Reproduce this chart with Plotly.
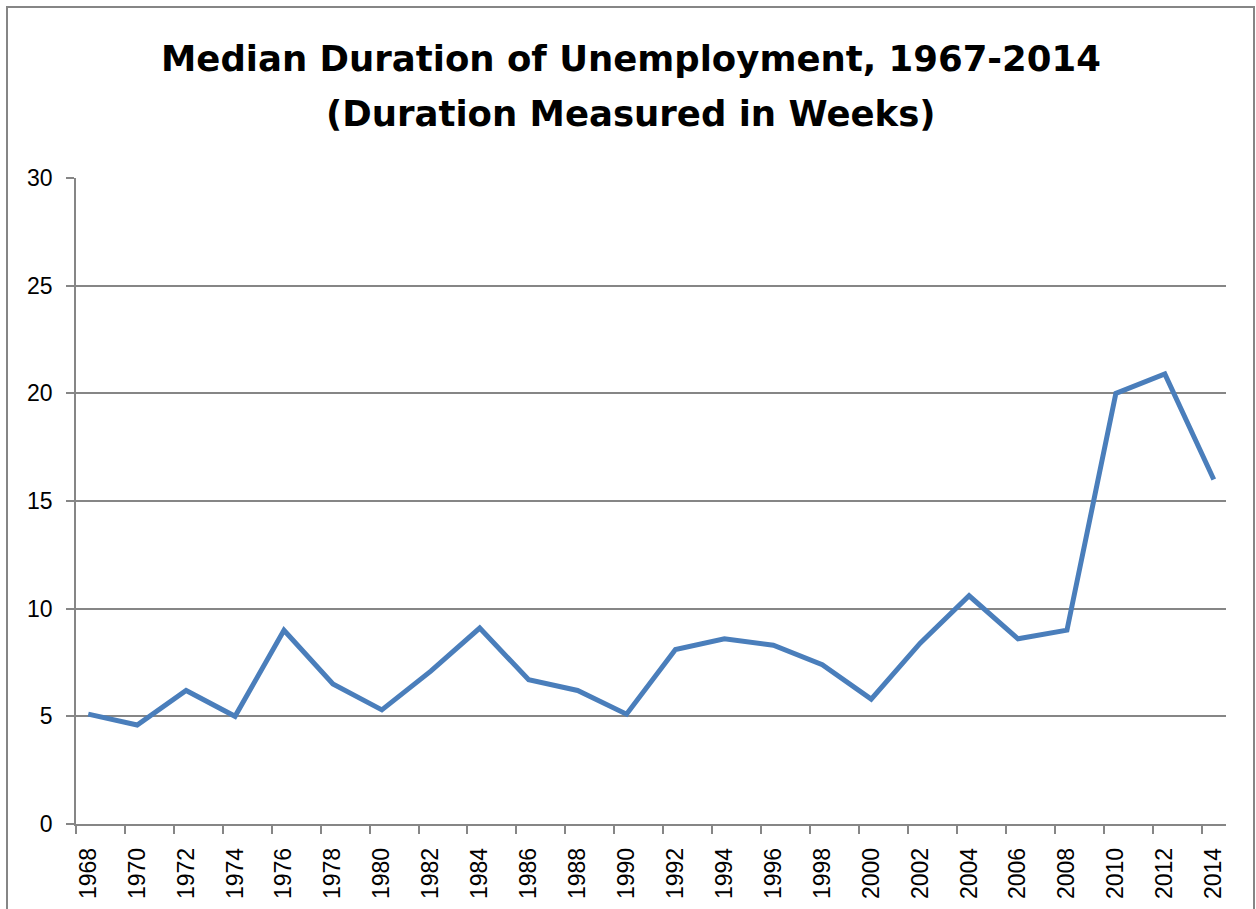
import plotly.graph_objects as go

years = list(range(1968, 2015, 2))
weeks = [5.1, 4.6, 6.2, 5.0, 9.0, 6.5, 5.3, 7.1, 9.1, 6.7, 6.2, 5.1,
         8.1, 8.6, 8.3, 7.4, 5.8, 8.4, 10.6, 8.6, 9.0, 20.0, 20.9, 16.0]
y_ticks = [0, 5, 10, 15, 20, 25, 30]
x_labels = [str(y) for y in years]
title_lines = ["Median Duration of Unemployment, 1967-2014",
               "(Duration Measured in Weeks)"]

W, H = 1256, 909
L, R, T, B = 76, 30, 178, 85
pw, ph = W - L - R, H - T - B

fig = go.Figure()
fig.add_trace(go.Scatter(x=years, y=weeks, mode="lines",
                         line=dict(color="#4A7EBB", width=5),
                         showlegend=False, hoverinfo="x+y"))

grid = "#868686"
fig.update_layout(
    width=W, height=H,
    margin=dict(l=L, r=R, t=T, b=B),
    paper_bgcolor="white", plot_bgcolor="white",
    font=dict(family="Liberation Sans, Arial, sans-serif", color="black"),
    xaxis=dict(type="linear", range=[1967.5, 2014.5],
               tickvals=years, ticktext=x_labels, ticks="",
               minor=dict(tick0=1967.5, dtick=2, ticks="outside", ticklen=8,
                          tickcolor=grid, tickwidth=1.5, showgrid=False),
               showline=True, linecolor=grid, linewidth=1.5,
               tickangle=-90, tickfont=dict(size=23), showgrid=False,
               ticklabelstandoff=13, zeroline=False, automargin=False,
               fixedrange=True),
    yaxis=dict(range=[0, 30], tickvals=y_ticks, ticks="outside", ticklen=8,
               tickcolor=grid, tickwidth=1.5, showline=True, linecolor=grid, linewidth=1.5,
               showgrid=True, gridcolor=grid, gridwidth=1.5, zeroline=False,
               ticklabelstandoff=9, automargin=False,
               tickfont=dict(size=23), fixedrange=True),
)

# title as two lines positioned like the original
cx = (631 - L) / pw
for txt, yc in zip(title_lines, [58, 114]):
    fig.add_annotation(text=txt, xref="paper", yref="paper",
                       x=cx, y=1 + (T - yc) / ph, xanchor="center", yanchor="middle",
                       showarrow=False,
                       font=dict(family="DejaVu Sans, sans-serif", size=35.5,
                                 color="black", weight="bold"))

# outer chart border (Excel chart area)
x0 = (7 - L) / pw
x1 = (1254 - L) / pw
y1 = 1 + (T - 7) / ph
y0 = -(B + 20) / ph
fig.add_shape(type="rect", xref="paper", yref="paper", x0=x0, x1=x1, y0=y0, y1=y1,
              line=dict(color="#868686", width=2), fillcolor="rgba(0,0,0,0)", layer="below")

fig.write_html("out.html", config={"displayModeBar": False},
               post_script="document.body.style.margin='0';document.body.style.overflow='hidden';")
